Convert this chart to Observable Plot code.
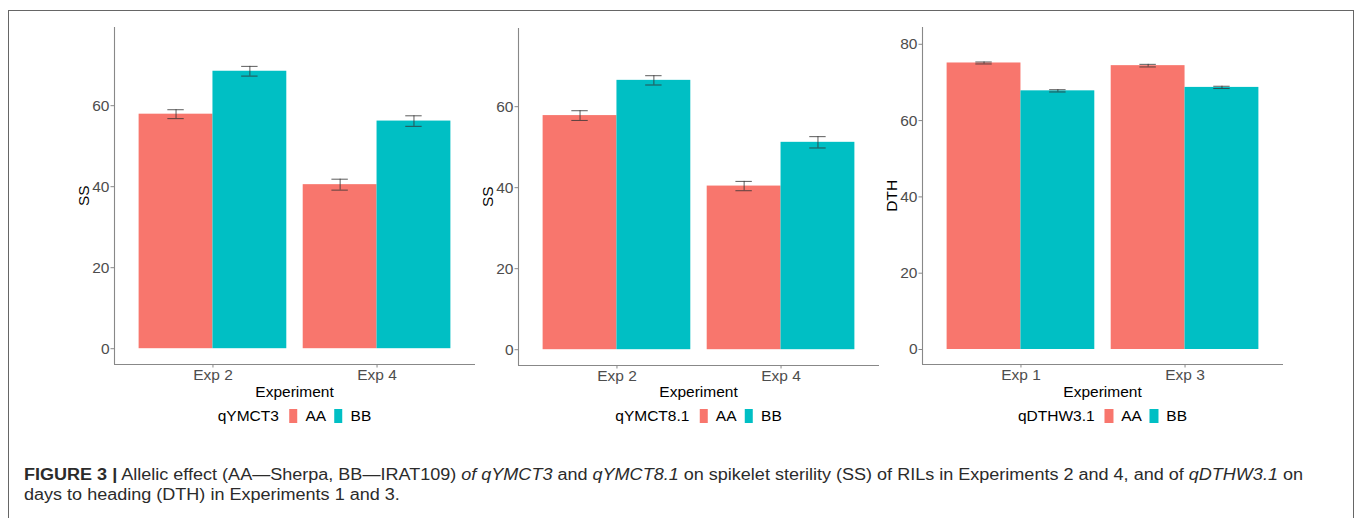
<!DOCTYPE html>
<html>
<head>
<meta charset="utf-8">
<script src="https://cdn.jsdelivr.net/npm/d3@7"></script>
<script src="https://cdn.jsdelivr.net/npm/@observablehq/plot@0.6"></script>
<style>
html, body { margin: 0; padding: 0; background: #fff; }
#root { position: relative; width: 1362px; height: 518px; overflow: hidden;
        font-family: "Liberation Sans", Arial, Helvetica, sans-serif; }
#border { position: absolute; left: 8px; top: 10px; width: 1346px; height: 600px;
          border: 1.5px solid #666; border-bottom: none; box-sizing: border-box; }
.abs { position: absolute; }
.lbl { position: absolute; font-size: 15.5px; line-height: 1; color: #000; white-space: nowrap; }
.legend { position: absolute; display: flex; align-items: center; height: 14.4px;
          font-size: 15.5px; color: #000; white-space: nowrap; transform: translateX(-50%); }
.legend span.t { line-height: 14.4px; }
.legend .sw { width: 8.5px; height: 14.4px; display: inline-block; }
#cap { position: absolute; left: 24px; top: 464.5px; font-size: 16px; line-height: 20px;
       color: #2b2b2b; white-space: nowrap; transform-origin: left top;
       font-family: "Liberation Sans Narrow", "Liberation Sans", Arial, sans-serif; }
</style>
</head>
<body>
<div id="root">
  <div id="border"></div>
  <div id="cap"><span id="capl1"><b>FIGURE 3 |</b> Allelic effect (AA—Sherpa, BB—IRAT109) <i>of qYMCT3</i> and <i>qYMCT8.1</i> on spikelet sterility (SS) of RILs in Experiments 2 and 4, and of <i>qDTHW3.1</i> on</span><br><span>days to heading (DTH) in Experiments 1 and 3.</span></div>
</div>
<script>
// ---- data ----
const genotypes = ["AA", "BB"];
const genoColors = ["#F8766D", "#00BFC4"];

const expSS = ["Exp 2", "Exp 4"];
const expDTH = ["Exp 1", "Exp 3"];

const qYMCT3_AA = [57.9, 40.5];
const qYMCT3_BB = [68.5, 56.2];
const qYMCT3_AA_se = [1.1, 1.35];
const qYMCT3_BB_se = [1.2, 1.3];

const qYMCT81_AA = [57.8, 40.4];
const qYMCT81_BB = [66.5, 51.2];
const qYMCT81_AA_se = [1.2, 1.15];
const qYMCT81_BB_se = [1.15, 1.4];

const qDTHW31_AA = [75.1, 74.4];
const qDTHW31_BB = [67.8, 68.7];
const qDTHW31_AA_se = [0.26, 0.34];
const qDTHW31_BB_se = [0.3, 0.3];

const yTicksSS = [0, 20, 40, 60];
const yTicksDTH = [0, 20, 40, 60, 80];
const yDomainSS = [-3.9, 79.3];
const yDomainDTH = [-3.93, 84.4];

// ---- helpers ----
function buildRows(exps, aa, bb, aaSe, bbSe) {
  const out = [];
  exps.forEach((e, k) => {
    out.push({exp: e, i: k + 1, geno: genotypes[0], value: aa[k], se: aaSe[k]});
    out.push({exp: e, i: k + 1, geno: genotypes[1], value: bb[k], se: bbSe[k]});
  });
  return out;
}

const DODGE = 0.45;   // half of bar group width (0.9)
const CAP = 0.05;     // half of error-bar cap width (0.1)
const XDOMAIN = [0.4, 2.6];
const off = d => (d.geno === genotypes[0] ? -1 : 1);
const center = d => d.i + off(d) * DODGE / 2;

const W = 361, H = 337, ML = 60, MR = 4, MT = 27, MB = 40;
const FONT = '"Liberation Sans", Arial, Helvetica, sans-serif';

const panels = [
  {axisX: 114, top: 27, exps: expSS, rows: buildRows(expSS, qYMCT3_AA, qYMCT3_BB, qYMCT3_AA_se, qYMCT3_BB_se),
   yDomain: yDomainSS, yTicks: yTicksSS, ylab: "SS", legendTitle: "qYMCT3"},
  {axisX: 518, top: 28, exps: expSS, rows: buildRows(expSS, qYMCT81_AA, qYMCT81_BB, qYMCT81_AA_se, qYMCT81_BB_se),
   yDomain: yDomainSS, yTicks: yTicksSS, ylab: "SS", legendTitle: "qYMCT8.1"},
  {axisX: 922, top: 27, exps: expDTH, rows: buildRows(expDTH, qDTHW31_AA, qDTHW31_BB, qDTHW31_AA_se, qDTHW31_BB_se),
   yDomain: yDomainDTH, yTicks: yTicksDTH, ylab: "DTH", legendTitle: "qDTHW3.1"}
];

const root = document.getElementById("root");

panels.forEach(p => {
  const data = p.rows;
  const chart = Plot.plot({
    width: ML + W + MR,
    height: MT + H + MB,
    marginLeft: ML, marginRight: MR, marginTop: MT, marginBottom: MB,
    style: {background: "transparent", color: "#4d4d4d", fontSize: "15.5px", fontFamily: FONT, overflow: "visible"},
    x: {domain: XDOMAIN, axis: null},
    y: {domain: p.yDomain, axis: null},
    color: {domain: genotypes, range: genoColors},
    marks: [
      Plot.rectY(data, {
        x1: d => d.i + (off(d) < 0 ? -DODGE : 0),
        x2: d => d.i + (off(d) < 0 ? 0 : DODGE),
        y1: 0, y2: "value", fill: "geno"
      }),
      Plot.ruleX(data, {x: center, y1: d => d.value - d.se, y2: d => d.value + d.se,
        stroke: "#333", strokeOpacity: 0.8, strokeWidth: 1}),
      Plot.ruleY(data, {y: d => d.value + d.se, x1: d => center(d) - CAP, x2: d => center(d) + CAP,
        stroke: "#333", strokeOpacity: 0.8, strokeWidth: 1}),
      Plot.ruleY(data, {y: d => d.value - d.se, x1: d => center(d) - CAP, x2: d => center(d) + CAP,
        stroke: "#333", strokeOpacity: 0.8, strokeWidth: 1}),
      Plot.ruleX([XDOMAIN[0]], {stroke: "#888", strokeWidth: 1.1}),
      Plot.ruleY([p.yDomain[0]], {stroke: "#888", strokeWidth: 1.1}),
      Plot.axisY(p.yTicks, {anchor: "left", tickSize: 3.5, tickPadding: 1.5, stroke: "#888", label: null}),
      Plot.axisX([1, 2], {anchor: "bottom", tickFormat: v => p.exps[v - 1], tickSize: 3.5, tickPadding: 0.5,
        stroke: "#888", label: null})
    ]
  });
  const holder = document.createElement("div");
  holder.className = "abs";
  holder.style.left = (p.axisX - ML) + "px";
  holder.style.top = (p.top - MT) + "px";
  holder.appendChild(chart);
  root.appendChild(holder);

  const cx = p.axisX + W / 2;

  // x axis title
  const xt = document.createElement("div");
  xt.className = "lbl";
  xt.textContent = "Experiment";
  xt.style.left = cx + "px";
  xt.style.top = "383.7px";
  xt.style.transform = "translateX(-50%)";
  root.appendChild(xt);

  // y axis title (rotated)
  const yt = document.createElement("div");
  yt.className = "lbl";
  yt.textContent = p.ylab;
  yt.style.left = (p.axisX - 30.3) + "px";
  yt.style.top = (p.top + H / 2 - 7.75) + "px";
  yt.style.transform = "translateX(-50%) rotate(-90deg)";
  root.appendChild(yt);

  // legend
  const lg = document.createElement("div");
  lg.className = "legend";
  lg.style.left = cx + "px";
  lg.style.top = "408.7px";
  let html = `<span class="t" style="margin-right:10px">${p.legendTitle}</span>`;
  genotypes.forEach((g, k) => {
    html += `<span class="sw" style="background:${genoColors[k]};margin-right:8px"></span>`;
    html += `<span class="t" style="margin-right:${k === genotypes.length - 1 ? 0 : 8}px">${g}</span>`;
  });
  lg.innerHTML = html;
  root.appendChild(lg);
});

// fit caption line 1 to the reference width
const cap = document.getElementById("cap");
const l1 = document.getElementById("capl1");
const wl1 = l1.getBoundingClientRect().width;
if (wl1 > 0) cap.style.transform = `scaleX(${1279 / wl1})`;
</script>
</body>
</html>
